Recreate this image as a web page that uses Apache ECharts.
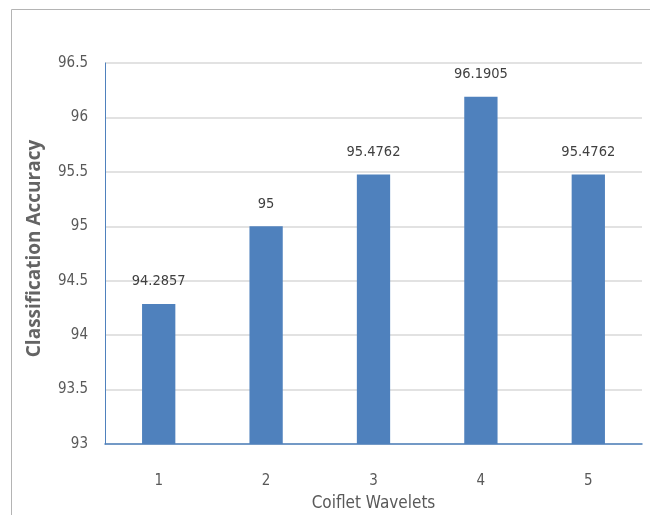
<!DOCTYPE html>
<html>
<head>
<meta charset="utf-8">
<script src="https://cdn.jsdelivr.net/npm/echarts@6/dist/echarts.min.js"></script>
<style>
  html, body { margin: 0; padding: 0; background: #fff; }
  #chart { width: 650px; height: 515px; }
</style>
</head>
<body>
<div id="chart"></div>
<script>
// Classification accuracy for Coiflet wavelets 1-5
const categories = ['1', '2', '3', '4', '5'];
const accuracy = [94.2857, 95, 95.4762, 96.1905, 95.4762];
const yTicks = { min: 93, max: 96.5, step: 0.5 };

const narrow = '"Liberation Sans Narrow", "DejaVu Sans Condensed", sans-serif';

const chart = echarts.init(document.getElementById('chart'));
chart.setOption({
  animation: false,
  backgroundColor: '#ffffff',
  graphic: [{
    type: 'rect',
    shape: { x: 11.5, y: 9.5, width: 700, height: 600 },
    style: { fill: 'none', stroke: '#b4b4b4', lineWidth: 1 },
    silent: true
  }],
  grid: { left: 105, top: 63, right: 8, bottom: 71, containLabel: false, outerBoundsMode: 'none' },
  xAxis: {
    type: 'category',
    data: categories,
    name: 'Coiflet Wavelets',
    nameLocation: 'middle',
    nameGap: 51,
    nameTextStyle: { fontFamily: narrow, fontSize: 17, color: '#595959' },
    axisLine: { lineStyle: { color: '#4f81bd', width: 1.5 } },
    axisTick: { show: false },
    axisLabel: { margin: 30, fontFamily: narrow, fontSize: 15, color: '#595959' }
  },
  yAxis: {
    type: 'value',
    min: yTicks.min,
    max: yTicks.max,
    interval: yTicks.step,
    name: 'Classification Accuracy',
    nameLocation: 'middle',
    nameGap: 61,
    nameRotate: 90,
    nameTextStyle: {
      fontFamily: '"Open Sans", sans-serif', fontWeight: 'bold', fontSize: 19,
      color: '#646464', padding: [0, 0, 0, 10]
    },
    axisLine: { show: true, lineStyle: { color: '#4f81bd', width: 1 } },
    axisTick: { show: false },
    splitLine: { lineStyle: { color: '#d9d9d9', width: 1.5 } },
    axisLabel: { margin: 17, fontFamily: narrow, fontSize: 15, color: '#595959' }
  },
  series: [{
    type: 'bar',
    data: accuracy,
    barWidth: '31%',
    itemStyle: { color: '#4f81bd' },
    label: {
      show: true,
      position: 'top',
      distance: 15,
      fontFamily: narrow,
      fontSize: 14.5,
      color: '#404040',
      formatter: p => String(p.value)
    }
  }]
});
</script>
</body>
</html>
